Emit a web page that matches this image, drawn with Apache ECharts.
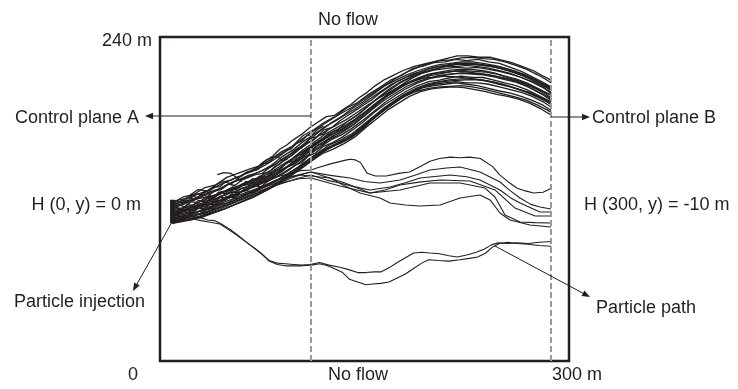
<!DOCTYPE html>
<html>
<head>
<meta charset="utf-8">
<script src="https://cdn.jsdelivr.net/npm/echarts@6/dist/echarts.min.js"></script>
<style>
html,body{margin:0;padding:0;background:#fff;}
#chart{width:738px;height:389px;}
</style>
</head>
<body>
<div id="chart"></div>
<script>
// ---- domain (metres) ----
const xRange = [0, 300];
const yRange = [0, 240];
const controlPlanes = [110.8, 286.8];
const injectionLine = [[9.2, 102], [9.2, 119.5]];

// ---- upper bundle of particle paths (x m, y m) ----
const U1 = [[9,117],[17,121.5],[25,123.5],[33,128.5],[41,130.5],[49,136],[57,139],[65,142],[73,144.5],[81,149],[89,155],[97,159],[105,167],[113,171.5],[121,177],[129,181.5],[137,187.5],[145,191.5],[153,197.5],[161,202.5],[169,208],[177,211.5],[185,216.5],[193,218.5],[201,221],[209,221.5],[217,223.5],[225,222.5],[233,223.5],[241,221.5],[249,220.5],[257,217.5],[265,214.5],[273,210.5],[281,206.5],[287,203]];
const U2 = [[9,114],[13,115.5],[21,118.5],[29,121],[37,125.5],[45,128],[53,132.5],[61,135],[69,138.5],[77,142],[85,146],[93,151.5],[101,157],[109,163.5],[117,170],[125,176],[133,181],[141,187],[149,192],[157,198],[165,204],[173,209.5],[181,214],[189,217.5],[197,220.5],[205,222.5],[213,223],[221,224.5],[229,225],[237,224],[245,223.5],[253,221.5],[261,219],[269,216],[277,212],[284,208],[287,206]];
const U3 = [[9,111],[17,113],[25,116],[33,119.5],[41,123],[49,126.5],[57,129.5],[65,133],[73,135.5],[81,139.5],[89,145],[97,150],[105,156.5],[113,162],[121,168],[129,172.5],[137,177],[145,182.5],[153,189],[161,195.5],[169,201],[177,206.5],[185,210.5],[193,213.5],[201,215.5],[209,216.5],[217,217.5],[225,217],[233,217.5],[241,216],[249,214.5],[257,212.5],[265,210],[273,206.5],[281,202.5],[287,199]];
const U4 = [[9,107],[13,108.5],[21,110.5],[29,113.5],[37,116],[45,119.5],[53,123],[61,126],[69,129],[77,132.5],[85,136],[93,141],[101,146],[109,152.5],[117,158],[125,163.5],[133,167.5],[141,172.5],[149,178.5],[157,185],[165,191.5],[173,197],[181,202],[189,206],[197,209],[205,211],[213,212.5],[221,213],[229,212.5],[237,212],[245,210.5],[253,208.5],[261,206.5],[269,203.5],[277,199.5],[284,196],[287,194]];
const U5 = [[9,104],[17,105],[25,107.5],[33,109.5],[41,112.5],[49,115.5],[57,118.5],[65,121.5],[73,125],[81,129],[89,134],[97,139],[105,145],[113,150.5],[121,156],[129,160],[137,164],[145,169],[153,176.5],[161,183],[169,189],[177,194.5],[185,199],[193,202.5],[201,204],[209,205],[217,206],[225,205],[233,204],[241,202],[249,200],[257,198.5],[265,196],[273,193],[281,189.5],[287,185.5]];
const U6 = [[9,116],[13,117],[21,119],[29,120.5],[37,122],[45,124.5],[53,127],[61,130],[69,132],[77,135.5],[85,139.5],[93,144],[101,150],[109,156.5],[117,162],[125,167],[133,171],[141,176],[149,182],[157,189],[165,195],[173,200],[181,205.5],[189,209.5],[197,212.5],[205,214],[213,215.5],[221,216],[229,216],[237,215],[245,213.5],[253,211],[261,209],[269,206],[277,202],[284,198.5],[287,196.5]];
const U7 = [[9,108],[17,110.5],[25,113],[33,116],[41,120],[49,124],[57,128.5],[65,132.5],[73,136.5],[81,141],[89,147],[97,152.5],[105,159],[113,164.5],[121,170],[129,174.5],[137,179],[145,184.5],[153,190],[161,195],[169,199.5],[177,204],[185,207.5],[193,209.5],[201,210],[209,211],[217,210.5],[225,209.5],[233,208.5],[241,207],[249,205],[257,203],[265,200.5],[273,198],[281,194],[287,190]];
const U8 = [[9,112],[13,113],[21,114],[29,115],[37,116.5],[45,119],[53,121.5],[61,124],[69,127],[77,130],[85,133.5],[93,137.5],[101,143],[109,149],[117,154],[125,158.5],[133,161.5],[141,166],[149,172],[157,180],[165,186.5],[173,192],[181,197.5],[189,201.5],[197,204.5],[205,206.5],[213,207.5],[221,208],[229,208.5],[237,208],[245,206.5],[253,204.5],[261,202],[269,199.5],[277,196.5],[284,192.5],[287,190.5]];
const U9 = [[9,105],[17,107],[25,109.5],[33,113],[41,116],[49,120],[57,124],[65,127.5],[73,131],[81,135],[89,141],[97,146],[105,153],[113,159.5],[121,165],[129,169.5],[137,174],[145,180],[153,186.5],[161,193],[169,199],[177,204.5],[185,209.5],[193,213.5],[201,216],[209,218],[217,219.5],[225,220],[233,219.5],[241,218.5],[249,217],[257,214.5],[265,211.5],[273,208],[281,204],[287,200.5]];
const U10 = [[9,103],[13,103.5],[21,105],[29,107],[37,109.5],[45,112],[53,115],[61,118.5],[69,122],[77,126],[85,130.5],[93,135.5],[101,141],[109,147.5],[117,153],[125,158],[133,162.5],[141,167],[149,173.5],[157,180.5],[165,187],[173,192.5],[181,197],[189,200],[197,202],[205,203],[213,203.5],[221,204],[229,203],[237,201.5],[245,199.5],[253,197.5],[261,195.5],[269,193],[277,189.5],[284,186],[287,184]];
const U11 = [[9,113],[17,116],[25,119],[33,123],[41,126],[49,130.5],[57,134],[65,137.5],[73,140],[81,144.5],[89,151],[97,156],[105,162.5],[113,168],[121,173.5],[129,178],[137,183],[145,188],[153,193.5],[161,199],[169,204.5],[177,208.5],[185,212.5],[193,215],[201,217.5],[209,219],[217,220.5],[225,220.5],[233,220],[241,219],[249,218],[257,215.5],[265,212.5],[273,209],[281,205],[287,201]];
const U12 = [[9,110],[13,111],[21,113],[29,116],[37,119],[45,122],[53,125],[61,128],[69,131],[77,134.5],[85,138.5],[93,143.5],[101,149],[109,155],[117,160.5],[125,165.5],[133,170],[141,174.5],[149,181],[157,187.5],[165,193.5],[173,198.5],[181,203.5],[189,207],[197,209.5],[205,211.5],[213,212.5],[221,213.5],[229,213],[237,212.5],[245,211],[253,209.5],[261,207.5],[269,204.5],[277,201],[284,197],[287,195]];
const U13 = [[9,106],[21,108.5],[29,111],[37,113.5],[45,117],[53,120],[61,123],[69,126],[77,129.5],[85,133],[93,138],[101,143.5],[109,149.5],[117,155],[125,160.5],[133,164],[141,168.5],[149,175],[157,181.5],[165,188],[173,193.5],[181,198.5],[189,202.5],[197,205.5],[205,207],[213,208.5],[221,209],[229,209],[237,208],[245,206.5],[253,204.5],[261,202],[269,199],[277,195.5],[284,192],[287,190]];
const U14 = [[9,118],[13,119],[21,121],[29,124],[37,127],[45,131],[53,134.5],[61,138],[69,141],[77,145],[85,150],[93,155.5],[101,162],[109,168],[117,173.5],[125,178.5],[133,183.5],[141,188],[149,193.5],[157,199],[165,204],[173,208],[181,212],[189,215],[197,217.5],[205,219.5],[213,220.5],[221,221.5],[229,221.5],[237,220.5],[245,219],[253,217],[261,214.5],[269,211.5],[277,207.5],[284,204],[287,202]];
const U15 = [[9,109],[15,110],[23,114],[31,117],[39,121],[47,125],[55,128],[63,131],[71,134],[79,137],[87,142],[95,148],[103,154],[111,159],[119,165],[127,170],[135,174],[143,179],[151,185],[159,191.5],[167,197],[175,202],[183,206],[191,209],[199,211.5],[207,213],[215,214.5],[223,215],[231,214.5],[239,214],[247,212.5],[255,210],[263,207.5],[271,204.5],[279,200.5],[287,197]];
const U16 = [[9,102],[15,103],[23,104.5],[31,106.5],[39,109.5],[47,112.5],[55,116],[63,119.5],[71,123],[79,127],[87,131.5],[95,136.5],[103,142],[111,148],[119,153.5],[127,157],[135,161],[143,166],[151,173],[159,179.5],[167,186],[175,191],[183,196],[191,199.5],[199,201.5],[207,202.5],[215,203],[223,202.5],[231,201],[239,199.5],[247,197.5],[255,196],[263,194],[271,191],[279,187],[287,182]];
const V1 = [[9,112],[14,116],[18,114],[23,118],[28,117],[33,121],[38,120],[43,125],[48,124],[53,129],[58,128],[63,133],[68,132],[73,137],[78,136],[83,141],[88,142],[93,147],[98,148],[103,154],[108,156],[113,161],[118,163],[123,168],[130,171],[137,177],[145,182],[153,189],[161,196],[169,202],[177,207],[185,211],[193,214],[201,216],[209,218],[217,218],[225,219],[233,218],[241,217],[249,215],[257,213],[265,210],[273,207],[281,203],[287,198]];
const V2 = [[9,108],[14,109],[19,112],[24,111],[29,115],[34,114],[39,118],[44,119],[49,122],[54,121],[59,125],[64,127],[69,130],[74,129],[79,133],[84,136],[89,138],[94,141],[99,145],[104,147],[109,152],[114,154],[120,159],[127,162],[134,166],[141,171],[149,177],[157,184],[165,190],[173,195],[181,200],[189,204],[197,207],[205,208],[213,210],[221,211],[229,210],[237,210],[245,208],[253,206],[261,204],[269,201],[277,197],[287,192]];
const V3 = [[9,115],[15,118],[20,121],[26,124],[31,123],[36,127],[42,131],[47,133],[52,131],[57,135],[62,139],[67,141],[72,144],[77,148],[83,152],[88,157],[93,160],[98,164],[104,168],[110,173],[116,177],[122,181],[128,182],[134,186],[140,190],[146,195],[152,199],[158,204],[164,208],[170,211],[178,215],[186,218],[194,220],[202,222],[210,224],[218,226],[226,226],[234,225],[242,225],[250,223],[258,221],[266,218],[274,215],[281,211],[287,208]];
const V4 = [[9,104],[14,107],[19,106],[24,109],[29,109],[34,112],[39,113],[44,116],[49,117],[54,120],[59,121],[64,124],[69,125],[74,128],[79,130],[84,133],[89,136],[94,139],[99,142],[104,145],[109,149],[114,152],[119,156],[125,159],[131,162],[137,165],[143,169],[149,174],[156,180],[163,186],[170,191],[177,196],[185,200],[193,203],[201,205],[209,206],[217,207],[225,206],[233,206],[241,205],[249,203],[257,201],[265,199],[273,196],[281,192],[287,188]];
const V5 = [[9,117],[13,118],[17,117],[21,121],[25,120],[30,123],[35,122],[40,126],[45,127],[50,131],[55,130],[60,134],[65,136],[70,138],[75,139],[80,143],[85,146],[90,150],[95,153],[100,157],[105,160],[110,165],[115,166],[120,171],[126,173],[132,178],[138,182],[144,186],[150,190],[156,194],[162,199],[168,203],[174,207],[180,210],[188,213],[196,216],[204,218],[212,219],[220,220],[228,220],[236,219],[244,218],[252,216],[260,214],[268,211],[276,208],[287,201]];
const V6 = [[9,110],[14,112],[19,111],[24,114],[29,113],[34,117],[39,117],[44,121],[49,121],[54,125],[59,125],[64,129],[69,129],[74,133],[79,134],[84,137],[89,140],[94,144],[99,146],[104,150],[109,153],[114,157],[119,160],[124,164],[130,167],[136,171],[142,175],[148,180],[154,185],[160,191],[166,196],[172,200],[178,204],[186,208],[194,211],[202,213],[210,214],[218,215],[226,214],[234,213],[242,212],[250,210],[258,208],[266,205],[274,201],[281,197],[287,193]];
const W1 = [[9,111],[12,114],[16,112],[20,116],[24,115],[28,119],[32,118],[36,122],[40,121],[44,125],[48,126],[52,128],[56,127],[60,131],[64,132],[68,135],[72,134],[76,139],[80,140],[84,144],[88,146],[92,150],[96,152],[100,156],[104,158],[108,162],[112,163],[116,167],[120,168],[124,172]];
const W2 = [[9,106],[12,108],[16,107],[20,110],[24,110],[28,113],[32,113],[36,116],[40,116],[44,119],[48,119],[52,123],[56,122],[60,126],[64,126],[68,130],[72,130],[76,133],[80,135],[84,137],[88,140],[92,143],[96,145],[100,148],[104,150],[108,154],[112,156],[116,160],[120,161],[124,165],[128,167]];
const W3 = [[9,114],[12,116],[16,119],[20,118],[24,122],[28,121],[32,125],[36,126],[40,129],[44,129],[48,133],[52,134],[56,136],[60,137],[64,140],[68,141],[72,142],[76,146],[80,147],[84,151],[88,153],[92,156],[96,157],[100,161],[104,163],[108,167],[112,168],[116,172],[120,174]];
const W4 = [[9,108],[12,110],[16,111],[20,113],[24,112],[28,116],[32,116],[36,119],[40,118],[44,122],[48,123],[52,125],[56,125],[60,128],[64,129],[68,132],[72,132],[76,136],[80,137],[84,140],[88,143],[92,146],[96,148],[100,152],[104,153],[108,157],[112,159],[116,163],[120,164],[126,169]];
const W5 = [[70,141],[74,146],[78,149],[83,151],[87,151],[90,148],[94,150]];
const E1 = [[42,138],[47,139.5],[52,139],[56,136],[60,133]];
const E2 = [[22,123],[28,127],[34,126],[38,121],[42,118]];

// ---- middle bundle ----
const Ma = [[9,106],[20,108],[33,112],[49,120],[60,126],[73,132],[88,137],[103,141],[111,141.5],[115,143],[125,146],[137,149],[140,149.5],[143,149],[147,147],[152,139],[158,137],[166,137],[175,139],[183,140],[191,144],[198,148],[205,150],[213,151],[220,150.5],[227,151],[235,150],[244,144],[249,138],[255,133],[262,128],[268,126],[274,124.5],[281,125],[287,128]];
const Mb = [[9,104],[22,107],[38,112],[55,119],[70,127],[85,134],[98,137],[110.8,140],[125,137.5],[139.4,135.6],[150,133],[161.4,131.8],[176,134.1],[188,138],[198,141.5],[210,143],[220.1,143.7],[234.7,140],[249.4,132.6],[257,126],[264.1,120.7],[272,116],[278.7,114.1],[286.8,112.6]];
const Mc = [[9,103],[25,106],[45,113],[65,122],[85,130],[100,135],[110.8,137.8],[122,134],[132,131.8],[143,129],[154,126.7],[168.7,128.9],[180,132],[190.7,135.6],[212.7,137.8],[225,136.5],[234.7,134.1],[249.4,126.7],[257,121],[264.1,117],[278.7,110.4],[286.8,110.4]];
const Md = [[9,105],[30,109],[50,116],[70,125],[90,132],[102,135],[110.8,135.6],[132,129.6],[154,124.4],[176,126.7],[198,131.8],[220.1,131.8],[238.4,128.1],[245.7,121.5],[253.1,108.1],[264.1,103],[275,102.5],[286.8,102.2]];
const Me = [[9,102],[28,106],[48,113],[68,121],[85,130],[95,135],[102.7,137.8],[124.7,135.6],[135,130],[146.7,124.4],[161.4,120.7],[168.7,117],[180,115.5],[190.7,114.8],[205.4,115.6],[220.1,120.7],[234.7,123],[242.1,119.3],[249.4,109.6],[256.7,104.4],[271.4,100.7],[286.8,99.3]];
const Mf = [[9,107],[30,111],[52,118],[75,128],[95,136],[110.8,140],[135.7,131.8],[154,124.4],[165,126.7],[176,130.4],[190,132.5],[205.4,134.1],[227.4,133.3],[245.7,126.7],[260.4,113.3],[275.1,107.4],[286.8,107.4]];

// ---- lower pair (the "particle path") ----
const LA = [[10,104],[18,106],[25,107],[30,106],[35,104.5],[40,104],[45,101.5],[52,97],[58,92.5],[64,87.5],[70,83],[75,79],[80,74.5],[86,72.5],[92,72],[98,71.5],[104,71],[110,71.5],[117,73],[124,71],[132,69.5],[139,67.5],[145,65.5],[151,65.5],[157,66],[162,66],[168,69],[174,73],[180,76.5],[186,80],[192,80.5],[198,80],[205,79.5],[212,78],[218,77],[225,78.5],[232,80.5],[238,83],[243,86],[248,87.5],[255,87],[262,87.5],[270,87],[278,88],[287,88.5]];
const LB = [[10,103],[18,104.5],[25,105],[30,104],[36,103],[44,101.5],[50,97.5],[56,93.5],[62,89],[68,84.5],[74,80],[80,74],[86,71.5],[92,70.5],[98,70.5],[104,70.5],[111,71],[117,72],[123,70.5],[129,68],[134,65.5],[139,60.5],[145,58.5],[151,56.5],[156,57],[162,57.5],[168,58.5],[174,61.5],[180,64.5],[186,68.5],[192,72.5],[197,75],[204,74.5],[212,74],[220,75],[227,76],[233,77],[239,80],[244,84.5],[249,87],[255,88],[262,87],[270,86.5],[278,85.5],[287,85]];

const upperPaths = [U1,U2,U3,U4,U5,U6,U7,U8,U9,U10,U11,U12,U13,U14,U15,U16,V1,V2,V3,V4,V5,V6,W1,W2,W3,W4,W5,E1,E2];
const otherPaths = [Ma,Mb,Mc,Md,Me,Mf,LA,LB];

const INK = '#231f20';
const FONT = 'Liberation Sans, Arial, Helvetica, sans-serif';

const series = [];
upperPaths.forEach(p => series.push({
  type: 'line', data: p, symbol: 'none', showSymbol: false, silent: true,
  lineStyle: { color: INK, width: 1.3 }, z: 3
}));
otherPaths.forEach(p => series.push({
  type: 'line', data: p, symbol: 'none', showSymbol: false, silent: true,
  lineStyle: { color: INK, width: 1.1 }, z: 3
}));
series.push({
  type: 'line', data: injectionLine, symbol: 'none', silent: true,
  lineStyle: { color: INK, width: 5 }, z: 4
});
series.push({
  type: 'line', data: [], symbol: 'none', silent: true, z: 6,
  markLine: {
    silent: true, symbol: ['none', 'none'], label: { show: false },
    lineStyle: { color: '#9a9a9a', width: 2, type: [6, 3] },
    data: controlPlanes.map(v => ({ xAxis: v }))
  }
});

function txt(text, x, y, align) {
  return { type: 'text', x: x, y: y, z: 10, silent: true,
    style: { text: text, fill: INK, font: '18px ' + FONT, align: align || 'left', verticalAlign: 'middle' } };
}
function arrow(x1, y1, x2, y2) {
  const dx = x2 - x1, dy = y2 - y1, L = Math.sqrt(dx*dx + dy*dy);
  const ux = dx / L, uy = dy / L, hl = 8, hw = 3.2;
  const bx = x2 - ux * hl, by = y2 - uy * hl;
  return [
    { type: 'line', z: 10, silent: true, shape: { x1: x1, y1: y1, x2: bx, y2: by }, style: { stroke: INK, lineWidth: 1 } },
    { type: 'polygon', z: 10, silent: true, shape: { points: [[x2, y2], [bx - uy * hw, by + ux * hw], [bx + uy * hw, by - ux * hw]] }, style: { fill: INK } }
  ];
}

const graphics = [
  txt('No flow', 318, 20),
  txt('240 m', 152, 41, 'right'),
  txt('Control plane A', 15, 118),
  txt('Control plane B', 592, 118),
  txt('H (0, y) = 0 m', 141, 205, 'right'),
  txt('H (300, y) = -10 m', 584, 205),
  txt('Particle injection', 14, 302),
  txt('Particle path', 596, 308),
  txt('0', 128, 375),
  txt('No flow', 328, 375),
  txt('300 m', 552, 375)
].concat(arrow(311, 116, 145, 116), arrow(551, 117, 590, 117), arrow(172, 222, 133, 291), arrow(495, 246, 590, 297));

const chart = echarts.init(document.getElementById('chart'), null, { renderer: 'canvas' });
chart.setOption({
  animation: false,
  backgroundColor: '#fff',
  grid: { left: 160, top: 37, right: 169, bottom: 28, show: true, borderColor: INK, borderWidth: 2.5, backgroundColor: 'transparent' },
  xAxis: { type: 'value', min: xRange[0], max: xRange[1], show: true,
    axisLine: { show: false }, axisTick: { show: false }, axisLabel: { show: false }, splitLine: { show: false } },
  yAxis: { type: 'value', min: yRange[0], max: yRange[1], show: true,
    axisLine: { show: false }, axisTick: { show: false }, axisLabel: { show: false }, splitLine: { show: false } },
  series: series,
  graphic: graphics
});
</script>
</body>
</html>
